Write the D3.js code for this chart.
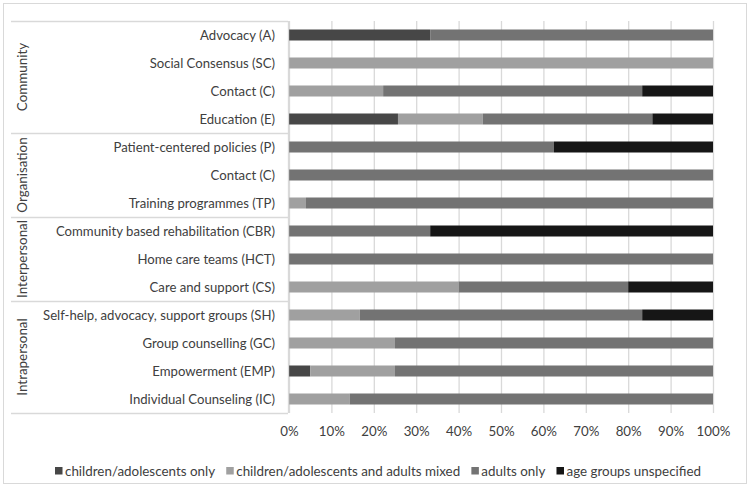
<!DOCTYPE html>
<html><head><meta charset="utf-8">
<script src="https://cdn.jsdelivr.net/npm/d3@7"></script>
<style>body{margin:0;background:#fff}svg{display:block}text{font-family:Lato,"Open Sans",sans-serif;fill:#404040}</style>
</head><body><svg id="c" width="750" height="488"></svg>
<script>
const categories = ["Advocacy (A)","Social Consensus (SC)","Contact (C)","Education (E)","Patient-centered policies (P)","Contact (C) ","Training programmes (TP)","Community based rehabilitation (CBR)","Home care teams (HCT)","Care and support (CS)","Self-help, advocacy, support groups (SH)","Group counselling (GC)","Empowerment (EMP)","Individual Counseling (IC)"];
const groups = ["Community","Organisation","Interpersonal","Intrapersonal"];
const groupSizes = [4,3,3,4];
const seriesNames = ["children/adolescents only","children/adolescents and adults mixed","adults only","age groups unspecified"];
const childrenOnly = [33.3,0,0,25.7,0,0,0,0,0,0,0,0,5,0];
const mixed        = [0,100,22.2,20,0,0,4,0,0,40,16.7,25,20,14.3];
const adultsOnly   = [66.7,0,61.1,40,62.5,100,96,33.3,100,40,66.6,75,75,85.7];
const unspecified  = [0,0,16.7,14.3,37.5,0,0,66.7,0,20,16.7,0,0,0];
const tickValues = [0,0.1,0.2,0.3,0.4,0.5,0.6,0.7,0.8,0.9,1];
const colors = ["#474747","#a0a0a0","#737373","#161616"];

const svg = d3.select("#c");
const grid = "#d9d9d9";
svg.append("rect").attr("x",3.5).attr("y",3.5).attr("width",743).attr("height",480).attr("fill","#fff").attr("stroke",grid);

const x = d3.scaleLinear().domain([0,1]).range([289,713]);
const rowY = d3.scaleBand().domain(d3.range(categories.length)).range([21,413]);

// gridlines
svg.append("g").selectAll("line").data(tickValues).join("line")
  .attr("x1",d=>x(d)+0.5).attr("x2",d=>x(d)+0.5).attr("y1",21).attr("y2",413)
  .attr("stroke",grid).attr("stroke-width",1.3);

// stacked data
const rows = categories.map((c,i)=>({i, v:[childrenOnly[i],mixed[i],adultsOnly[i],unspecified[i]]}));
const stack = d3.stack().keys([0,1,2,3]).value((d,k)=>d.v[k]/100)(rows);
svg.append("g").selectAll("g").data(stack).join("g").attr("fill",(d,k)=>colors[k])
  .selectAll("rect").data(d=>d).join("rect")
  .attr("x",d=>x(d[0])).attr("width",d=>Math.max(0,x(d[1])-x(d[0])))
  .attr("y",d=>rowY(d.data.i)+rowY.bandwidth()/2-5.5).attr("height",11);

// label box
const lb = svg.append("g");
lb.append("line").attr("x1",11).attr("x2",288).attr("y1",21.5).attr("y2",21.5).attr("stroke",grid).attr("stroke-width",1.3);
lb.append("line").attr("x1",288.5).attr("x2",288.5).attr("y1",21).attr("y2",413).attr("stroke",grid).attr("stroke-width",1.3);
let start = 0;
const bounds = groupSizes.map(s=>{const b=[start,start+s]; start+=s; return b;});
bounds.forEach((b,gi)=>{
  const yb = rowY(b[1]-1)+rowY.bandwidth();
  lb.append("line").attr("x1",11).attr("x2",288).attr("y1",yb+0.5).attr("y2",yb+0.5).attr("stroke",grid).attr("stroke-width",1.3);
  const yc = (rowY(b[0])+yb)/2;
  lb.append("text").attr("transform",`translate(27,${yc}) rotate(-90)`).attr("text-anchor","middle")
    .attr("font-size",13.4).text(groups[gi]);
});

// category labels
svg.append("g").selectAll("text").data(categories).join("text")
  .attr("x",275).attr("y",(d,i)=>rowY(i)+rowY.bandwidth()/2).attr("dy","0.35em")
  .attr("text-anchor","end").attr("font-size",13.15).text(d=>d.trim());

// x axis
const ax = svg.append("g").attr("transform","translate(0,413)")
  .call(d3.axisBottom(x).tickValues(tickValues).tickFormat(d3.format(".0%")).tickSize(0).tickPadding(14));
ax.select(".domain").remove();
ax.selectAll("text").attr("font-size",13.3).attr("font-family","Lato").attr("fill","#404040");

// legend: measure, then spread between 55 and 701
const lgRoot = svg.append("g");
const lg = lgRoot.selectAll("g").data(seriesNames).join("g");
lg.append("rect").attr("x",0).attr("y",-4).attr("width",7.5).attr("height",7.5).attr("fill",(d,i)=>colors[i]);
const lt = lg.append("text").attr("x",10).attr("dy","0.35em").attr("font-size",13.4).text(d=>d);
const widths = lt.nodes().map(n=>10+n.getComputedTextLength());
const total = d3.sum(widths);
const gap = (701-55-total)/(seriesNames.length-1);
let cx = 55;
const offs = widths.map(w=>{const o=cx; cx+=w+gap; return o;});
lg.attr("transform",(d,i)=>`translate(${offs[i]},471)`);
</script></body></html>
